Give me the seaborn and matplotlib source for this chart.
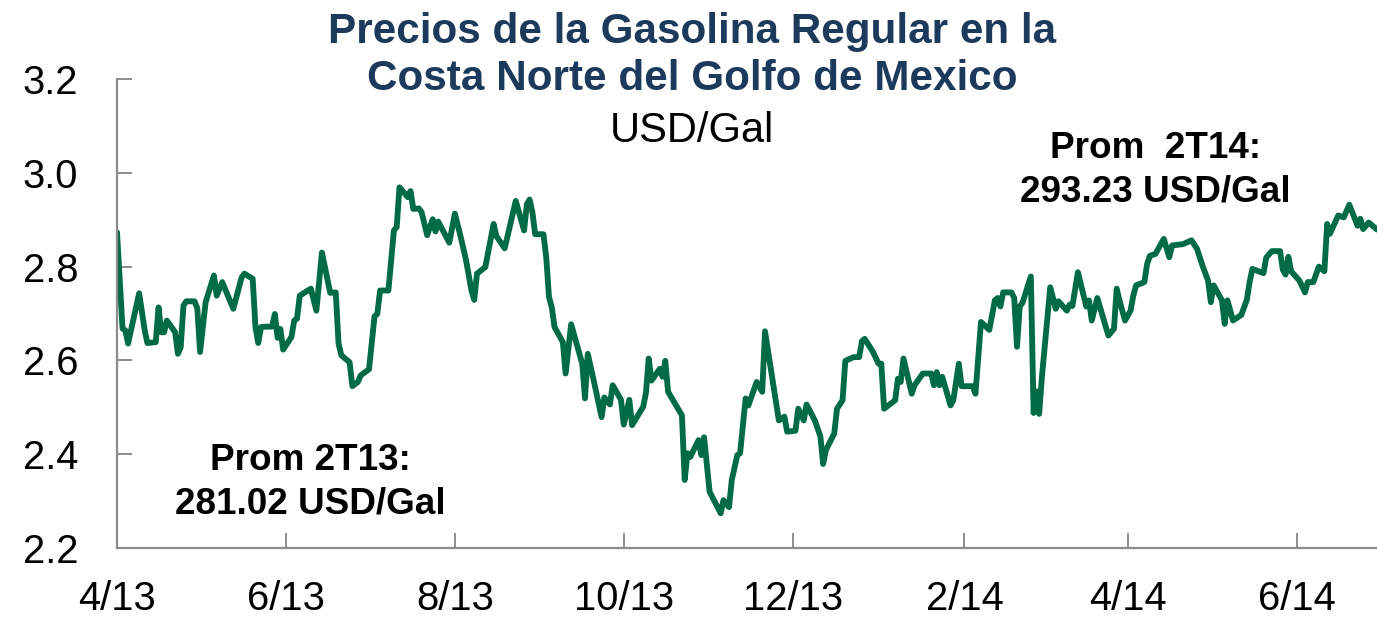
import matplotlib
matplotlib.use("Agg")
import matplotlib.pyplot as plt
import matplotlib.dates as mdates
import seaborn as sns
import pandas as pd
import numpy as np

# ---------------- data ----------------
dates = [
    "2013-04-01","2013-04-03","2013-04-04","2013-04-05","2013-04-09","2013-04-11","2013-04-12","2013-04-15",
    "2013-04-16","2013-04-17","2013-04-18","2013-04-19","2013-04-22","2013-04-23","2013-04-24","2013-04-25",
    "2013-04-26","2013-04-29","2013-04-30","2013-05-01","2013-05-03","2013-05-06","2013-05-07","2013-05-09",
    "2013-05-13","2013-05-16","2013-05-17","2013-05-20","2013-05-21","2013-05-22","2013-05-23","2013-05-25",
    "2013-05-27","2013-05-28","2013-05-29","2013-05-30","2013-05-31","2013-06-03","2013-06-04","2013-06-05",
    "2013-06-06","2013-06-10","2013-06-12","2013-06-14","2013-06-17","2013-06-19","2013-06-20","2013-06-21",
    "2013-06-24","2013-06-25","2013-06-27","2013-06-28","2013-07-01","2013-07-03","2013-07-04","2013-07-05",
    "2013-07-08","2013-07-10","2013-07-11","2013-07-12","2013-07-15","2013-07-16","2013-07-17","2013-07-19",
    "2013-07-20","2013-07-22","2013-07-24","2013-07-25","2013-07-26","2013-07-30","2013-08-01","2013-08-03",
    "2013-08-05","2013-08-07","2013-08-08","2013-08-09","2013-08-12","2013-08-15","2013-08-16","2013-08-19",
    "2013-08-23","2013-08-26","2013-08-27","2013-08-28","2013-08-29","2013-08-30","2013-09-02","2013-09-03",
    "2013-09-04","2013-09-05","2013-09-06","2013-09-09","2013-09-10","2013-09-12","2013-09-16","2013-09-17",
    "2013-09-18","2013-09-20","2013-09-23","2013-09-24","2013-09-26","2013-09-27","2013-09-30","2013-10-01",
    "2013-10-03","2013-10-04","2013-10-08","2013-10-09","2013-10-10","2013-10-11","2013-10-14","2013-10-15",
    "2013-10-16","2013-10-17","2013-10-22","2013-10-23","2013-10-24","2013-10-25","2013-10-28","2013-10-29",
    "2013-10-30","2013-11-01","2013-11-05","2013-11-06","2013-11-08","2013-11-09","2013-11-11","2013-11-12",
    "2013-11-14","2013-11-15","2013-11-18","2013-11-20","2013-11-21","2013-11-26","2013-11-28","2013-11-29",
    "2013-12-02","2013-12-03","2013-12-05","2013-12-06","2013-12-09","2013-12-11","2013-12-12","2013-12-13",
    "2013-12-16","2013-12-17","2013-12-19","2013-12-20","2013-12-23","2013-12-25","2013-12-26","2013-12-27",
    "2013-12-30","2014-01-01","2014-01-02","2014-01-03","2014-01-07","2014-01-08","2014-01-09","2014-01-10",
    "2014-01-13","2014-01-14","2014-01-17","2014-01-20","2014-01-21","2014-01-22","2014-01-23","2014-01-24",
    "2014-01-27","2014-01-28","2014-01-30","2014-01-31","2014-02-04","2014-02-05","2014-02-07","2014-02-10",
    "2014-02-12","2014-02-13","2014-02-14","2014-02-15","2014-02-18","2014-02-19","2014-02-20","2014-02-21",
    "2014-02-22","2014-02-25","2014-02-26","2014-02-27","2014-02-28","2014-03-01","2014-03-04","2014-03-06",
    "2014-03-07","2014-03-10","2014-03-11","2014-03-12","2014-03-14","2014-03-17","2014-03-18","2014-03-19",
    "2014-03-21","2014-03-25","2014-03-27","2014-03-28","2014-03-29","2014-03-31","2014-04-02","2014-04-03",
    "2014-04-04","2014-04-07","2014-04-08","2014-04-09","2014-04-11","2014-04-14","2014-04-16","2014-04-17",
    "2014-04-21","2014-04-24","2014-04-26","2014-04-28","2014-04-30","2014-05-01","2014-05-02","2014-05-05",
    "2014-05-06","2014-05-07","2014-05-09","2014-05-12","2014-05-14","2014-05-15","2014-05-16","2014-05-20",
    "2014-05-21","2014-05-23","2014-05-26","2014-05-27","2014-05-28","2014-05-29","2014-05-30","2014-06-02",
    "2014-06-04","2014-06-05","2014-06-07","2014-06-09","2014-06-11","2014-06-12","2014-06-13","2014-06-16",
    "2014-06-18","2014-06-20","2014-06-23","2014-06-24","2014-06-25","2014-06-27","2014-06-30",
]
prices = [
    2.873,2.668,2.664,2.636,2.743,2.664,2.637,2.639,
    2.713,2.660,2.660,2.685,2.660,2.614,2.628,2.717,
    2.726,2.726,2.711,2.618,2.724,2.781,2.738,2.767,
    2.710,2.777,2.785,2.774,2.671,2.637,2.671,2.672,
    2.672,2.699,2.648,2.667,2.623,2.650,2.685,2.689,
    2.738,2.753,2.706,2.830,2.744,2.745,2.636,2.611,
    2.596,2.545,2.554,2.568,2.581,2.694,2.699,2.749,
    2.749,2.877,2.884,2.969,2.948,2.961,2.923,2.924,
    2.916,2.867,2.901,2.875,2.896,2.851,2.913,2.866,
    2.815,2.749,2.729,2.785,2.799,2.891,2.865,2.839,
    2.940,2.877,2.933,2.943,2.916,2.869,2.869,2.820,
    2.735,2.713,2.671,2.639,2.572,2.677,2.593,2.519,
    2.614,2.561,2.479,2.521,2.506,2.547,2.516,2.463,
    2.516,2.462,2.501,2.530,2.604,2.557,2.582,2.565,
    2.599,2.533,2.483,2.345,2.402,2.394,2.430,2.398,
    2.436,2.320,2.274,2.302,2.287,2.345,2.398,2.402,
    2.519,2.504,2.554,2.533,2.662,2.472,2.480,2.448,
    2.450,2.497,2.472,2.506,2.472,2.438,2.379,2.409,
    2.444,2.497,2.515,2.599,2.607,2.607,2.641,2.646,
    2.618,2.593,2.593,2.497,2.515,2.561,2.554,2.604,
    2.529,2.547,2.572,2.572,2.547,2.575,2.547,2.565,
    2.504,2.515,2.593,2.545,2.545,2.529,2.682,2.665,
    2.728,2.733,2.715,2.745,2.745,2.733,2.629,2.715,
    2.723,2.779,2.488,2.534,2.486,2.565,2.756,2.710,
    2.726,2.706,2.719,2.716,2.788,2.715,2.728,2.685,
    2.733,2.653,2.667,2.753,2.728,2.685,2.706,2.738,
    2.760,2.767,2.806,2.823,2.827,2.859,2.820,2.845,
    2.848,2.856,2.838,2.802,2.770,2.724,2.760,2.728,
    2.678,2.728,2.685,2.697,2.729,2.767,2.795,2.786,
    2.819,2.833,2.833,2.793,2.783,2.821,2.790,2.770,
    2.745,2.767,2.767,2.800,2.790,2.891,2.870,2.909,
    2.905,2.932,2.887,2.902,2.880,2.894,2.879,
]
tick_dates = ["2013-04-01","2013-06-01","2013-08-01","2013-10-01",
              "2013-12-01","2014-02-01","2014-04-01","2014-06-01"]
tick_labels = ["4/13","6/13","8/13","10/13","12/13","2/14","4/14","6/14"]
y_ticks = [2.2, 2.4, 2.6, 2.8, 3.0, 3.2]
x_start, x_end = "2013-04-01", "2014-06-30"

title_lines = ["Precios de la Gasolina Regular en la", "Costa Norte del Golfo de Mexico"]
subtitle = "USD/Gal"
note_2t13 = ["Prom 2T13:", "281.02 USD/Gal"]
note_2t14 = ["Prom  2T14:", "293.23 USD/Gal"]

# ---------------- style ----------------
sns.set_style("white")
plt.rcParams["font.family"] = ["Liberation Sans", "DejaVu Sans"]

W, H = 1377, 619
fig = plt.figure(figsize=(W / 100, H / 100), dpi=100)
ax = fig.add_axes([117 / W, 1 - 548 / H, (W - 117) / W, (548 - 79) / H])

df = pd.DataFrame({"fecha": pd.to_datetime(dates), "precio": prices})
sns.lineplot(data=df, x="fecha", y="precio", ax=ax, color="#006B45",
             linewidth=4.2, estimator=None, sort=False)

ax.set_xlim(pd.Timestamp(x_start), pd.Timestamp(x_end))
ax.set_ylim(y_ticks[0], y_ticks[-1])
ax.set_yticks(y_ticks)
ax.set_yticklabels([f"{v:.1f}" for v in y_ticks])
ax.set_xticks(pd.to_datetime(tick_dates))
ax.set_xticklabels(tick_labels)
ax.set_xlabel("")
ax.set_ylabel("")

grey = "#8C8C8C"
for s in ["top", "right"]:
    ax.spines[s].set_visible(False)
for s in ["left", "bottom"]:
    ax.spines[s].set_color(grey)
    ax.spines[s].set_linewidth(1.6)
ax.tick_params(axis="both", which="major", direction="in", length=11, width=1.4,
               color=grey, labelsize=28.8, labelcolor="black",
               bottom=True, left=True, top=False, right=False)
ax.tick_params(axis="y", pad=28)
ax.tick_params(axis="x", pad=23)

navy = "#1B3A5C"
fig.text(692 / W, 1 - 43 / H, title_lines[0], ha="center", va="baseline",
         fontsize=30.4, fontweight="bold", color=navy)
fig.text(692 / W, 1 - 90 / H, title_lines[1], ha="center", va="baseline",
         fontsize=30.4, fontweight="bold", color=navy)
fig.text(692 / W, 1 - 142 / H, subtitle, ha="center", va="baseline",
         fontsize=30, color="black")

fig.text(310 / W, 1 - 470 / H, note_2t13[0], ha="center", va="baseline",
         fontsize=26.6, fontweight="bold", color="black")
fig.text(310 / W, 1 - 513 / H, note_2t13[1], ha="center", va="baseline",
         fontsize=26.6, fontweight="bold", color="black")
fig.text(1155 / W, 1 - 158 / H, note_2t14[0], ha="center", va="baseline",
         fontsize=26.6, fontweight="bold", color="black")
fig.text(1155 / W, 1 - 202 / H, note_2t14[1], ha="center", va="baseline",
         fontsize=26.6, fontweight="bold", color="black")

fig.savefig("out.png", dpi=100)
